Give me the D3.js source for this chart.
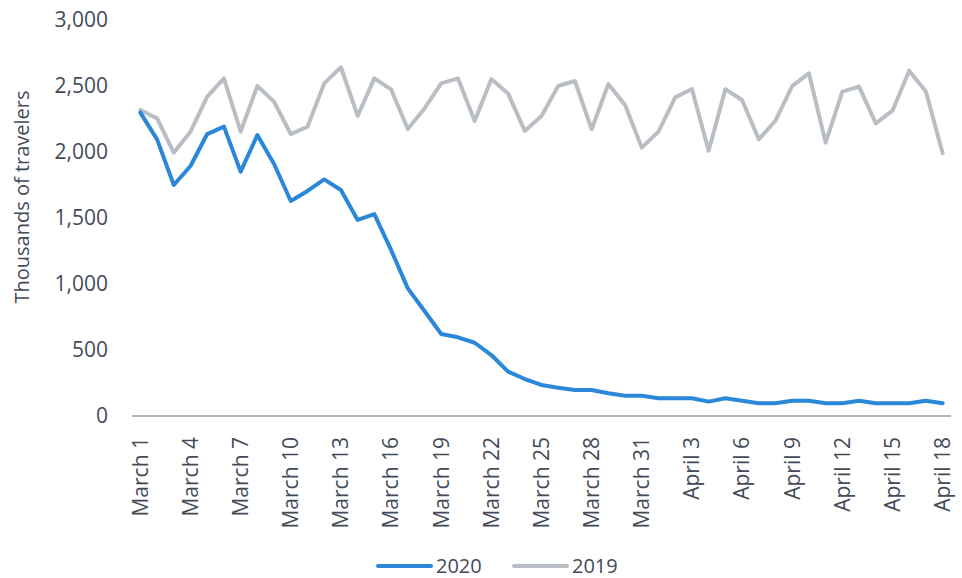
<!DOCTYPE html>
<html>
<head>
<meta charset="utf-8">
<script src="https://d3js.org/d3.v7.min.js"></script>
<style>
    body { margin: 0; background: #fff; }
    #chart text { font-family: 'Open Sans', sans-serif; fill: #434b59; }
</style>
</head>
<body>
<div id="chart"></div>
<script>
// daily airport travelers, 2020 vs same day 2019 (thousands)
//``````````````````````````````````````//
let dayLabels = []
for (let d = 1; d <= 31; d++) dayLabels.push('March ' + d)
for (let d = 1; d <= 18; d++) dayLabels.push('April ' + d)

let travelers2020 = [2298, 2096, 1750, 1894, 2136, 2192, 1851, 2129, 1909, 1629,
    1705, 1793, 1712, 1485, 1530, 1258, 967, 795, 621, 596,
    555, 462, 336, 280, 235, 214, 197, 197, 172, 154,
    154, 134, 134, 134, 109, 134, 116, 96, 96, 116,
    116, 96, 96, 116, 96, 96, 96, 116, 96]

let travelers2019 = [2318, 2255, 1995, 2154, 2420, 2558, 2154, 2500, 2381, 2136,
    2192, 2520, 2642, 2273, 2558, 2475, 2174, 2330, 2520, 2558,
    2235, 2553, 2444, 2159, 2273, 2500, 2538, 2172, 2515, 2356,
    2033, 2154, 2414, 2477, 2010, 2475, 2394, 2096, 2237, 2500,
    2596, 2071, 2457, 2495, 2217, 2313, 2616, 2457, 1990]

let yTicks = [0, 500, 1000, 1500, 2000, 2500, 3000]

let seriesNames = ['2020', '2019']
let seriesColors = ['#2b88d8', '#b9bec5']

let width = 962
let height = 578

let svg = d3.select('#chart').append('svg')
    .attr('width', width)
    .attr('height', height)

// scales
let xScale = d3.scaleBand().domain(dayLabels).range([132, 951]).padding(0)
let yScale = d3.scaleLinear().domain([0, 3000]).range([416, 20])
let xPos = (label) => xScale(label) + xScale.bandwidth() / 2

// y axis labels (no axis line, no gridlines)
svg.append('g')
    .selectAll('text')
    .data(yTicks)
    .enter()
    .append('text')
    .attr('x', 108)
    .attr('y', d => yScale(d))
    .attr('dy', '0.35em')
    .attr('text-anchor', 'end')
    .style('font-size', '21px')
    .text(d => d3.format(',')(d))

// y axis title
svg.append('text')
    .attr('transform', 'translate(29,197) rotate(-90)')
    .attr('text-anchor', 'middle')
    .style('font-size', '20px')
    .text('Thousands of travelers')

// zero line
svg.append('line')
    .attr('x1', 132)
    .attr('x2', 951)
    .attr('y1', yScale(0))
    .attr('y2', yScale(0))
    .attr('stroke', '#b4b8c0')
    .attr('stroke-width', 2)

// x labels every third day, rotated
svg.append('g')
    .selectAll('text')
    .data(dayLabels.filter((d, i) => i % 3 == 0))
    .enter()
    .append('text')
    .attr('transform', d => 'translate(' + xPos(d) + ',437) rotate(-90)')
    .attr('dy', '0.35em')
    .attr('text-anchor', 'end')
    .style('font-size', '21px')
    .text(d => d)

// the two lines, 2019 first so 2020 sits on top
let lineGen = d3.line()
    .x((d, i) => xPos(dayLabels[i]))
    .y(d => yScale(d))

let allSeries = [travelers2020, travelers2019]
for (let s = allSeries.length - 1; s >= 0; s--) {
    svg.append('path')
        .datum(allSeries[s])
        .attr('d', lineGen)
        .attr('fill', 'none')
        .attr('stroke', seriesColors[s])
        .attr('stroke-width', 4)
        .attr('stroke-linejoin', 'round')
        .attr('stroke-linecap', 'round')
}

// legend
let legendX = [378, 514]
let legend = svg.append('g')
    .selectAll('g')
    .data(seriesNames)
    .enter()
    .append('g')
    .attr('transform', (d, i) => 'translate(' + legendX[i] + ',566)')

legend.append('line')
    .attr('x1', 0)
    .attr('x2', 53)
    .attr('stroke', (d, i) => seriesColors[i])
    .attr('stroke-width', 4)
    .attr('stroke-linecap', 'round')

legend.append('text')
    .attr('x', 58)
    .attr('dy', '0.35em')
    .style('font-size', '20px')
    .text(d => d)
</script>
</body>
</html>
